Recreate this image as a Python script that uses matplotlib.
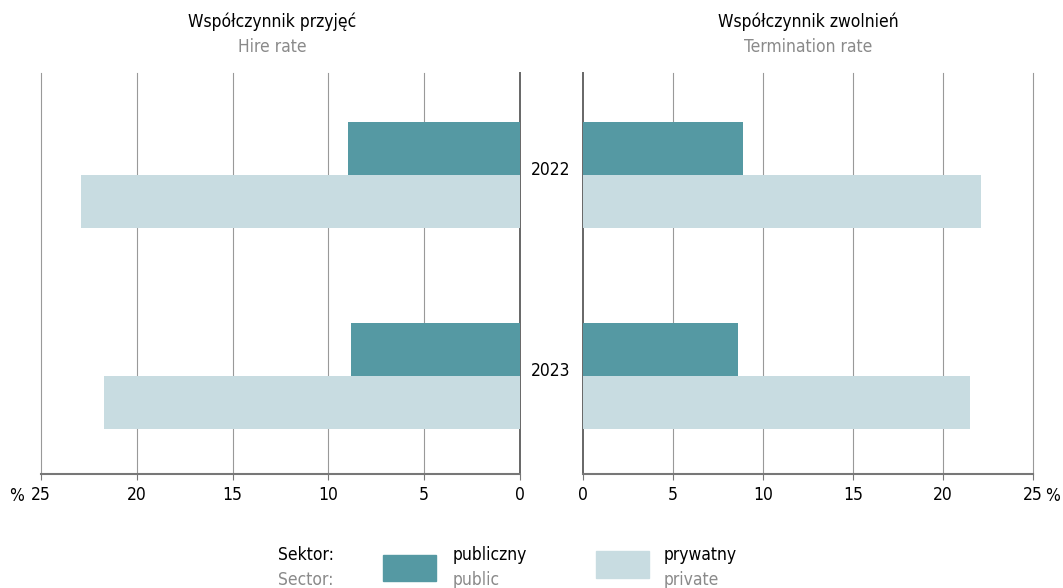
import matplotlib.pyplot as plt
import matplotlib.transforms as mtransforms
from matplotlib.patches import Rectangle

years = ['2022', '2023']
hire_public = [9.0, 8.8]
hire_private = [22.9, 21.7]
term_public = [8.9, 8.6]
term_private = [22.1, 21.5]
ticks = [0, 5, 10, 15, 20, 25]

plt.rcParams['font.family'] = ['DejaVu Sans']
plt.rcParams['font.stretch'] = 'condensed'

c_pub = '#5599a3'
c_priv = '#c8dce1'
grey = '#8a8a8a'
fs = 12.5

W, H = 1063, 588
fig = plt.figure(figsize=(W / 100, H / 100), dpi=100)

def add_ax(x0, x1):
    return fig.add_axes([x0 / W, 1 - 474 / H, (x1 - x0) / W, (474 - 73) / H])

axL = add_ax(41, 520)
axR = add_ax(583, 1033)

h = 0.264
pos = range(len(years))
for ax, pub, priv in [(axL, hire_public, hire_private), (axR, term_public, term_private)]:
    ax.barh([p - h / 2 for p in pos], pub, height=h, color=c_pub, zorder=3)
    ax.barh([p + h / 2 for p in pos], priv, height=h, color=c_priv, zorder=3)
    ax.set_ylim(1.488, -0.507)
    ax.set_xlim(0, 25)
    ax.set_xticks(ticks)
    ax.set_xticklabels([str(t) for t in ticks])
    ax.set_yticks([])
    for s in ['top', 'right', 'left']:
        ax.spines[s].set_visible(False)
    ax.spines['bottom'].set_color('#777777')
    ax.spines['bottom'].set_linewidth(1.5)
    ax.tick_params(axis='x', length=4, color='#777777', labelsize=fs, pad=5)
    for t in ticks:
        lw = 1.4 if t == 0 else 0.8
        col = '#666666' if t == 0 else '#999999'
        ax.axvline(t, color=col, lw=lw, zorder=1, clip_on=False)
axL.invert_xaxis()

# year labels between the panels
tr = mtransforms.blended_transform_factory(fig.transFigure, axL.transData)
for i, y in enumerate(years):
    axL.text(551 / W, i - 0.025, y, transform=tr, ha='center', va='center', fontsize=fs, clip_on=False)

fig.text(17 / W, 1 - 496 / H, '%', ha='center', va='center', fontsize=fs)
fig.text(1053 / W, 1 - 496 / H, '%', ha='center', va='center', fontsize=fs)

# titles
fig.text(272 / W, 1 - 22 / H, 'Współczynnik przyjęć', ha='center', va='center', fontsize=fs)
fig.text(272 / W, 1 - 47 / H, 'Hire rate', ha='center', va='center', fontsize=fs, color=grey)
fig.text(808 / W, 1 - 22 / H, 'Współczynnik zwolnień', ha='center', va='center', fontsize=fs)
fig.text(808 / W, 1 - 47 / H, 'Termination rate', ha='center', va='center', fontsize=fs, color=grey)

# legend
fig.text(278 / W, 1 - 555 / H, 'Sektor:', ha='left', va='center', fontsize=fs)
fig.text(278 / W, 1 - 580 / H, 'Sector:', ha='left', va='center', fontsize=fs, color=grey)
fig.patches.append(Rectangle((383 / W, 1 - 581 / H), 53 / W, 26 / H, transform=fig.transFigure, color=c_pub))
fig.text(453 / W, 1 - 555 / H, 'publiczny', ha='left', va='center', fontsize=fs)
fig.text(453 / W, 1 - 580 / H, 'public', ha='left', va='center', fontsize=fs, color=grey)
fig.patches.append(Rectangle((596 / W, 1 - 578 / H), 53 / W, 27 / H, transform=fig.transFigure, color=c_priv))
fig.text(664 / W, 1 - 555 / H, 'prywatny', ha='left', va='center', fontsize=fs)
fig.text(664 / W, 1 - 580 / H, 'private', ha='left', va='center', fontsize=fs, color=grey)

fig.savefig('out.png', dpi=100)
